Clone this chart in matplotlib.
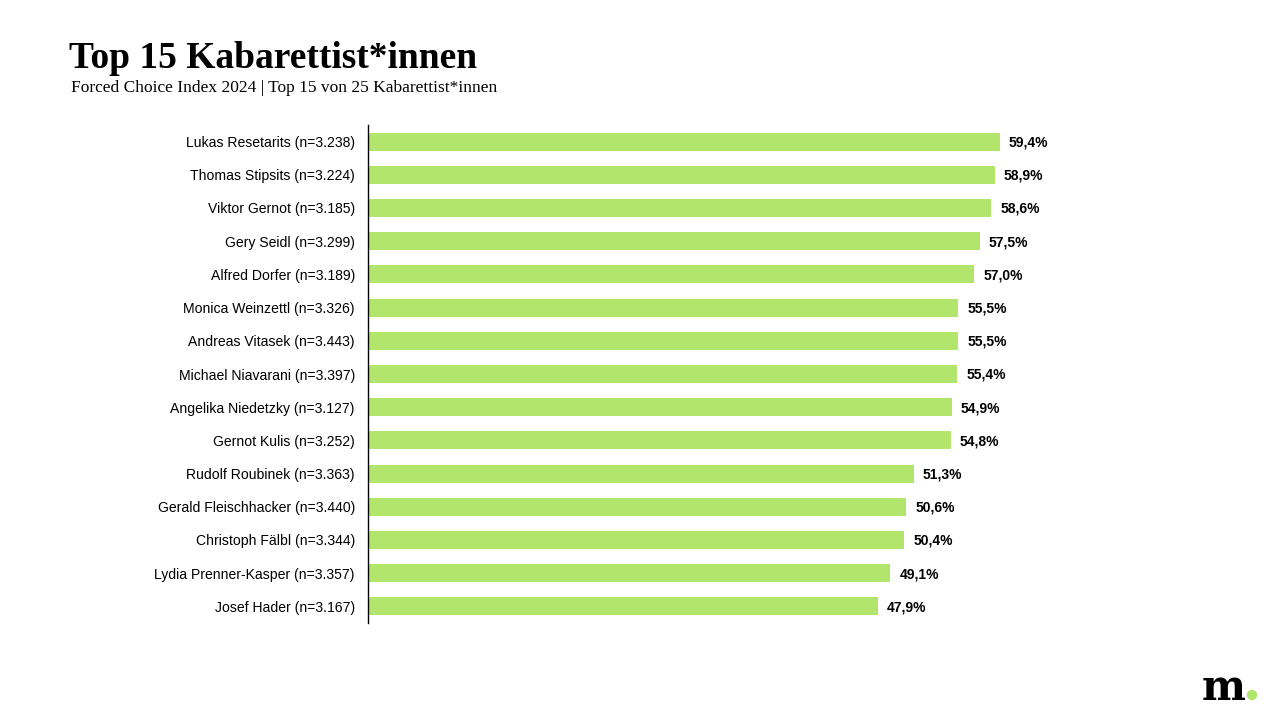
import matplotlib
matplotlib.use("Agg")
import matplotlib.pyplot as plt

# Data
names = ["Lukas Resetarits (n=3.238)", "Thomas Stipsits (n=3.224)", "Viktor Gernot (n=3.185)",
         "Gery Seidl (n=3.299)", "Alfred Dorfer (n=3.189)", "Monica Weinzettl (n=3.326)",
         "Andreas Vitasek (n=3.443)", "Michael Niavarani (n=3.397)", "Angelika Niedetzky (n=3.127)",
         "Gernot Kulis (n=3.252)", "Rudolf Roubinek (n=3.363)", "Gerald Fleischhacker (n=3.440)",
         "Christoph Fälbl (n=3.344)", "Lydia Prenner-Kasper (n=3.357)", "Josef Hader (n=3.167)"]
values = [59.4, 58.9, 58.6, 57.5, 57.0, 55.5, 55.5, 55.4, 54.9, 54.8, 51.3, 50.6, 50.4, 49.1, 47.9]

green = "#b2e56b"
serif = ["Liberation Serif"]

fig = plt.figure(figsize=(12.71, 7.12), dpi=100)
ax = fig.add_axes([368 / 1271, 1 - 623 / 712, 851 / 1271, (623 - 125) / 712])

y = list(range(len(values)))
ax.barh(y, values, height=0.54, color=green)
ax.set_ylim(len(values) - 0.5, -0.5)
ax.set_xlim(0, 80)

for i, v in enumerate(values):
    ax.text(v + 0.85, i + 0.03, f"{v:.1f}%".replace(".", ","), va="center", ha="left",
            fontsize=10, fontweight="bold", family="Liberation Sans")

ax.set_yticks(y)
ax.set_yticklabels(names, fontsize=10.1, family="Liberation Sans")
ax.tick_params(axis="y", length=0, pad=9.5)
ax.set_xticks([])
for s in ["top", "right", "bottom"]:
    ax.spines[s].set_visible(False)
ax.spines["left"].set_linewidth(1.0)

fig.text(69 / 1271, 1 - 68 / 712, "Top 15 Kabarettist*innen", fontsize=27, fontweight="bold",
         family=serif, va="baseline", ha="left")
fig.text(71 / 1271, 1 - 92 / 712, "Forced Choice Index 2024 | Top 15 von 25 Kabarettist*innen",
         fontsize=12.5, family=serif, va="baseline", ha="left")

# logo
fig.text(1202 / 1271, 1 - 688 / 712, "m", fontsize=30, fontweight="bold", family=["DejaVu Serif"],
         va="center", ha="left")
fig.patches.append(matplotlib.patches.Ellipse((1252 / 1271, 1 - 695 / 712), 9 / 1271, 9 / 712,
                                              transform=fig.transFigure, color=green))

fig.savefig("out.png", dpi=100)
